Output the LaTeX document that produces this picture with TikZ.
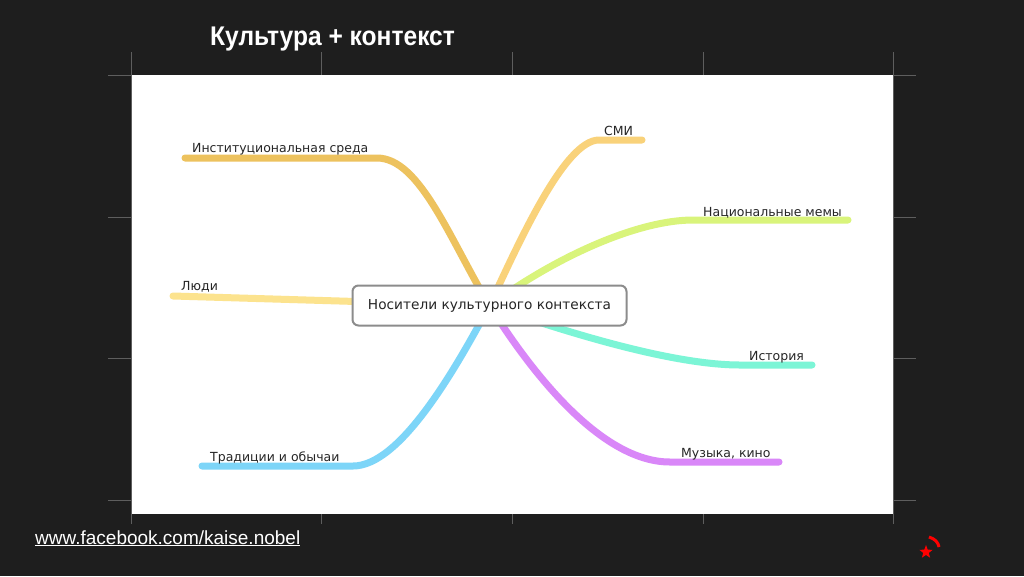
\documentclass[tikz,border=0pt]{standalone}
\usepackage{fontspec}
\setmainfont{DejaVu Sans}
\newfontfamily\arialfont{Liberation Sans}
\usetikzlibrary{positioning,calc,shapes.geometric}
\definecolor{slate}{HTML}{1E1E1E}
\definecolor{tickgray}{HTML}{5E5E5E}
\definecolor{boxgray}{HTML}{8C8C8C}
\definecolor{cInst}{HTML}{EDC25E}
\definecolor{cSmi}{HTML}{F9D27A}
\definecolor{cMem}{HTML}{D9F47B}
\definecolor{cLudi}{HTML}{FCE38E}
\definecolor{cTrad}{HTML}{7DD5F8}
\definecolor{cIst}{HTML}{7CF5D6}
\definecolor{cMuz}{HTML}{D987F8}
\pgfdeclarelayer{backdrop}
\pgfdeclarelayer{links}
\pgfsetlayers{backdrop,links,main}

\begin{document}
\begin{tikzpicture}[x=1pt,y=-1pt,
  branch/.style={line width=7pt,line cap=round},
  leaf/.style={anchor=base west,inner sep=0pt,text=black!85,font=\fontsize{12.5}{15}\selectfont},
  tick/.style={draw=tickgray,line width=0.8pt}]
\useasboundingbox (0,0) rectangle (1024,576);
\begin{pgfonlayer}{backdrop}
\fill[slate] (0,0) rectangle (1024,576);
\fill[white] (131,75) rectangle (893,514);
\foreach \x in {321,512,703}{
  \draw[tick] (\x,52) -- (\x,75);
  \draw[tick] (\x,514) -- (\x,524);
}
\foreach \x in {131,893} \draw[tick] (\x,52) -- (\x,524);
\foreach \y in {75,217,358,500}{
  \draw[tick] (108,\y) -- (131,\y);
  \draw[tick] (893,\y) -- (916,\y);
}
\end{pgfonlayer}

\node[anchor=base west,inner sep=0pt,text=white,font=\arialfont\bfseries\fontsize{27}{29}\selectfont](title) at (210,45){\scalebox{0.91}[1]{Культура + контекст}};

\node[draw=boxgray,line width=2pt,rounded corners=6pt,fill=white,minimum width=274pt,minimum height=40pt,text=black!85,font=\fontsize{13.7}{16}\selectfont](hub) at (489.5,305.5){Носители культурного контекста};

\node[coordinate](k_inst) at (377,158){};
\node[coordinate](e_inst) at (185,158){};
\node[coordinate](k_smi) at (599,140){};
\node[coordinate](e_smi) at (642,140){};
\node[coordinate](k_mem) at (693,220){};
\node[coordinate](e_mem) at (848,220){};
\node[coordinate](e_ludi) at (173,296){};
\node[coordinate](k_trad) at (353,466){};
\node[coordinate](e_trad) at (202,466){};
\node[coordinate](k_ist) at (740,365){};
\node[coordinate](e_ist) at (812,365){};
\node[coordinate](k_muz) at (670,462){};
\node[coordinate](e_muz) at (779,462){};

\node[leaf](l_inst) at (192,152){Институциональная среда};
\node[leaf](l_smi) at (604,135){СМИ};
\node[leaf](l_mem) at (703,216){Национальные мемы};
\node[leaf](l_ludi) at (181,290){Люди};
\node[leaf](l_trad) at (210,461){Традиции и обычаи};
\node[leaf](l_ist) at (749,360){История};
\node[leaf](l_muz) at (681,457){Музыка, кино};

\begin{pgfonlayer}{links}
\draw[branch,cInst] (e_inst) -- (k_inst) .. controls (420,158) and (450,240) .. (hub.center);
\draw[branch,cSmi] (e_smi) -- (k_smi) .. controls (565,140) and (520,240) .. (hub.center);
\draw[branch,cMem] (e_mem) -- (k_mem) .. controls (640,220) and (560,254) .. (hub.center);
\draw[branch,cLudi] (e_ludi) -- (hub.center);
\draw[branch,cTrad] (e_trad) -- (k_trad) .. controls (400,466) and (455,370) .. (hub.center);
\draw[branch,cIst] (e_ist) -- (k_ist) .. controls (670,365) and (560,330) .. (hub.center);
\draw[branch,cMuz] (e_muz) -- (k_muz) .. controls (600,462) and (530,370) .. (hub.center);
\end{pgfonlayer}

\node[anchor=base west,inner sep=0pt,text=white,font=\arialfont\fontsize{19}{21}\selectfont](url) at (35,544){\underline{www.facebook.com/kaise.nobel}};
\node[star,star points=5,star point ratio=2.4,fill=red,inner sep=0pt,minimum size=14pt](logo) at (926,552){};
\draw[red,line width=3pt] (929,537) .. controls (935,539) and (938,542) .. (939,547);
\end{tikzpicture}
\end{document}
